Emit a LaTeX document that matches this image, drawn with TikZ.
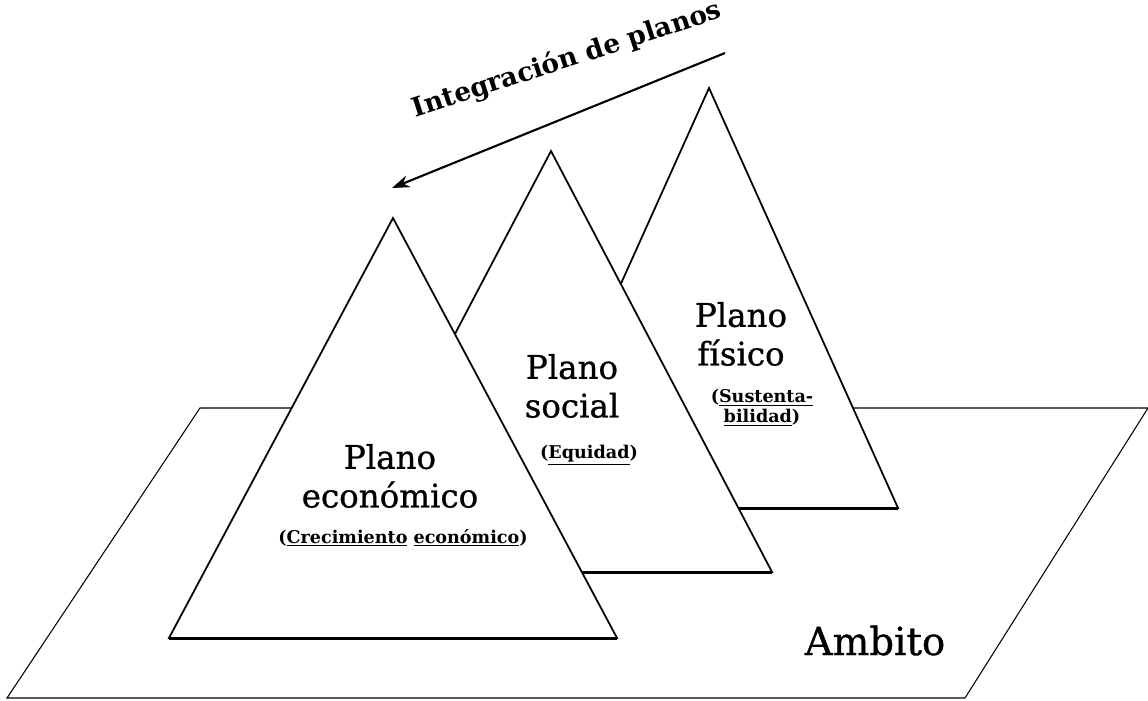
\documentclass[tikz,border=0pt]{standalone}
\usepackage{fontspec}
\setmainfont{DejaVu Serif}
\newfontfamily\planofont[FakeBold=0.8]{DejaVu Serif}
\usetikzlibrary{arrows.meta}

\begin{document}
\begin{tikzpicture}[>={Stealth[length=10pt,width=7pt]}, x=0.02cm, y=-0.02cm,
  plano/.style={align=center, font=\planofont\fontsize{18.5}{22}\selectfont},
  sub/.style={align=center, font=\fontsize{10}{11.5}\selectfont\bfseries}]
\useasboundingbox (0,0) rectangle (1148,700);
% ambito
\draw[line width=0.6pt] (200,408)--(1148,408)--(965,698)--(7,698)--cycle;
\node[anchor=base, font=\planofont\fontsize{22}{26}\selectfont] (ambito) at (875,655) {Ambito};
% planos, from back to front
\foreach \n/\ax/\ay/\hw/\by in {fis/709/88/189/508, soc/551/151/221/572, eco/393/218/224/638} {
  \coordinate (\n top) at (\ax,\ay);
  \coordinate (\n L) at (\ax-\hw,\by);
  \coordinate (\n R) at (\ax+\hw,\by);
  \filldraw[fill=white, line width=1pt] (\n top)--(\n R)--(\n L)--cycle;
  \draw[line width=1.7pt] (\n L)--(\n R);
}
\node[plano] (fis) at (741,334) {Plano\\físico};
\node[sub] (fisSub) at (762,408) {(\underline{Sustenta-}\\\underline{bilidad})};
\node[plano] (soc) at (572,386) {Plano\\social};
\node[sub, anchor=base] (socSub) at (589,458) {(\underline{Equidad})};
\node[plano] (eco) at (390,476) {Plano\\económico};
\node[sub, anchor=base] (ecoSub) at (403,543) {(\underline{Crecimiento} \underline{económico})};
% integracion
\coordinate (intS) at (725,53);
\coordinate (intE) at (392,188);
\draw[->, line width=1.2pt] (intS)--(intE);
\node[rotate=18, font=\fontsize{15}{17}\selectfont\bfseries] (lblInt) at (567,60) {Integración de planos};
\end{tikzpicture}
\end{document}
